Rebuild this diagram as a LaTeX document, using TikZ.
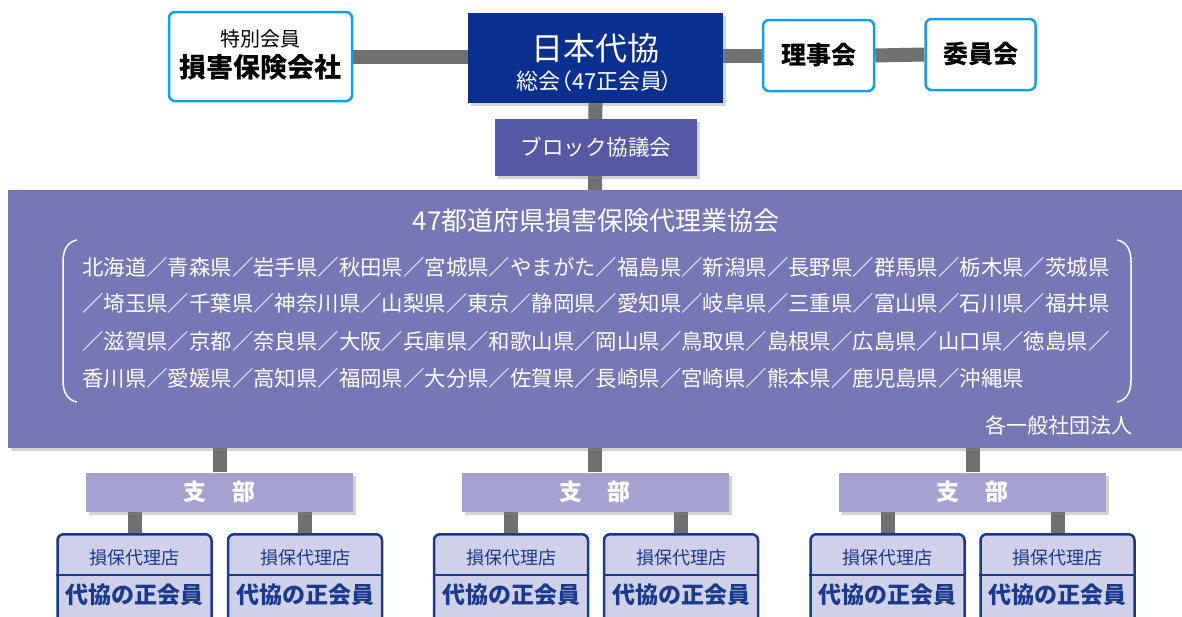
\documentclass[tikz,border=0pt]{standalone}
\usepackage{fontspec}
\setmainfont{Noto Sans CJK JP}
\usetikzlibrary{shadows,backgrounds}
\definecolor{cyanline}{RGB}{20,160,230}
\definecolor{daikyoblue}{RGB}{10,48,143}
\definecolor{blockblue}{RGB}{86,88,166}
\definecolor{bigpurple}{RGB}{120,119,182}
\definecolor{shibupurple}{RGB}{165,162,208}
\definecolor{memberfill}{RGB}{208,208,234}
\definecolor{memberline}{RGB}{26,58,140}
\definecolor{bargray}{RGB}{112,112,112}
\newcommand\fsz[1]{\fontsize{#1}{#1}\selectfont}

\begin{document}
\begin{tikzpicture}[x=1pt,y=-1pt,
    topbox/.style={draw=cyanline,line width=2.5pt,fill=white,rounded corners=6pt,inner sep=0pt},
    shade/.style={drop shadow={shadow xshift=3pt,shadow yshift=-3pt,opacity=.35}},
    darkbox/.style={fill=daikyoblue,inner sep=0pt,shade},
    blockbox/.style={fill=blockblue,inner sep=0pt,shade,text=white},
    bigbox/.style={fill=bigpurple,inner sep=0pt,shade},
    branchbox/.style={fill=shibupurple,inner sep=0pt,shade,text=white,
      minimum width=267pt,minimum height=39pt,font=\fsz{23}\bfseries},
    memberbox/.style={draw=memberline,line width=2.5pt,fill=memberfill,
      rounded corners=6pt,anchor=north,minimum width=154pt,minimum height=120pt},
    bar/.style={bargray,line width=14pt}]
  \useasboundingbox (0,0) rectangle (1182,616);

  \node[topbox,minimum width=183pt,minimum height=89pt] (sonpo) at (260.5,56.5) {};
  \node[font=\fsz{20}] (sonpo-t) at ([yshift=18pt]sonpo.center) {特別会員};
  \node[font=\fsz{27}\bfseries] (sonpo-b) at ([yshift=-11pt]sonpo.center) {損害保険会社};

  \node[darkbox,minimum width=255pt,minimum height=90pt] (daikyo) at (595.5,58) {};
  \node[font=\fsz{32},text=white] (daikyo-t) at ([yshift=10pt]daikyo.center) {日本代協};
  \node[font=\fsz{22},text=white] (daikyo-b) at ([yshift=-23pt]daikyo.center) {総会\kern-.45em（47正会員\kern-.1em）\kern-.35em};

  \node[topbox,minimum width=111pt,minimum height=71pt,font=\fsz{25}\bfseries] (riji) at (818.5,55.5) {理事会};
  \node[topbox,minimum width=110pt,minimum height=71pt,font=\fsz{25}\bfseries] (iin) at (980.5,54.5) {委員会};

  \node[blockbox,minimum width=202pt,minimum height=57pt,font=\fsz{21.5}] (block) at (596,147.5) {ブロック協議会};

  \node[bigbox,minimum width=1174pt,minimum height=258pt] (zenkoku) at (595,319) {};
  \node[font=\fsz{26},text=white] (title) at (596,221) {47都道府県損害保険代理業協会};
  \foreach \n/\y/\str in {1/267/北海道／青森県／岩手県／秋田県／宮城県／やまがた／福島県／新潟県／長野県／群馬県／栃木県／茨城県,
                          2/303/／埼玉県／千葉県／神奈川県／山梨県／東京／静岡県／愛知県／岐阜県／三重県／富山県／石川県／福井県,
                          3/341/／滋賀県／京都／奈良県／大阪／兵庫県／和歌山県／岡山県／鳥取県／島根県／広島県／山口県／徳島県／,
                          4/378/香川県／愛媛県／高知県／福岡県／大分県／佐賀県／長崎県／宮崎県／熊本県／鹿児島県／沖縄県}
  {\node[anchor=west,inner sep=0pt,font=\fsz{21.4},text=white] (pref\n) at (82,\y) {\str};
  }
  \draw[white,line width=1.5pt] (77,240) .. controls (67,242) and (63,250) .. (63,262)
    -- (63,380) .. controls (63,392) and (67,400) .. (77,402);
  \draw[white,line width=1.5pt] (1117,240) .. controls (1127,242) and (1131,250) .. (1131,262)
    -- (1131,380) .. controls (1131,392) and (1127,400) .. (1117,402);
  \node[anchor=east,inner sep=0pt,font=\fsz{21},text=white] (houjin) at (1133,425) {各一般社団法人};

  \foreach \n/\cx/\ax/\bx in {1/219.5/134.5/305,
                              2/595/511/681,
                              3/972.5/887.5/1057.5}
  {\node[branchbox] (shibu\n) at (\cx,492) {支\hspace{1.1em}部};
   \begin{scope}[on background layer]
     \draw[bar] (shibu\n.north) -- (shibu\n.north |- zenkoku.south);
   \end{scope}

   \foreach \m/\mx in {a/\ax, b/\bx}
   {\node[memberbox] (mem\n\m) at (\mx,533) {};
    \draw[memberline,line width=2.5pt] ([yshift=-42pt]mem\n\m.north west)
      -- ([yshift=-42pt]mem\n\m.north east);
    \node[font=\fsz{18},text=memberline] (agent\n\m) at ([yshift=-25pt]mem\n\m.north) {損保代理店};
    \node[font=\fsz{23}\bfseries,text=memberline] (seikai\n\m) at ([yshift=-62pt]mem\n\m.north) {代協の正会員};
    \begin{scope}[on background layer]
      \draw[bar] (mem\n\m.north) -- (mem\n\m.north |- shibu\n.south);
    \end{scope}
   }
  }

  \begin{scope}[on background layer]
    \draw[bar] (sonpo.east) -- (sonpo.east -| daikyo.west);
    \draw[bar] (daikyo.east |- riji.west) -- (riji.west);
    \draw[bar] (riji.east) -- (iin.west);
    \draw[bar] (daikyo.south) -- (zenkoku.north);
  \end{scope}
\end{tikzpicture}
\end{document}
